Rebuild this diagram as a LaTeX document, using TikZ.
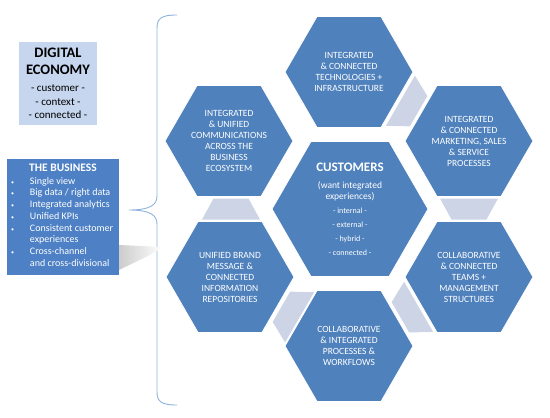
\documentclass[tikz,border=0pt]{standalone}
\usepackage{fontspec}
\setmainfont{Carlito}
\usepackage{tikz}
\usetikzlibrary{shapes.geometric}

\definecolor{hexblue}{RGB}{79,129,189}
\definecolor{bizblue}{RGB}{77,128,196}
\definecolor{econblue}{RGB}{198,214,238}
\definecolor{conngray}{RGB}{205,212,229}
\definecolor{braceblue}{RGB}{141,178,222}

\begin{document}
\begin{tikzpicture}[x=1pt, y=-1pt]
\tikzstyle{hex} = [regular polygon, regular polygon sides=6, minimum size=128pt, inner sep=0pt, fill=hexblue, draw=white, line width=0.8pt, text=white, align=center, font=\fontsize{9.5}{11}\selectfont]
\tikzstyle{box} = [rectangle, inner sep=0pt, align=center]
\useasboundingbox (0,0) rectangle (550,418);

% pieces between the outer hexagons
\foreach \a in {60,0,-60,-120,180}
  \fill[conngray, shift={(350,209)}, rotate=\a] (90,-10.5) -- (148,-10.5) -- (136.5,10.5) -- (101.5,10.5) -- cycle;

\node[hex, minimum size=156pt] (cust) at (350,209) {{\fontsize{13}{15}\selectfont\textbf{CUSTOMERS}}\\[6pt] (want integrated\\ experiences)\\[3pt] {\fontsize{8}{10}\selectfont - internal -}\\[3pt] {\fontsize{8}{10}\selectfont - external -}\\[3pt] {\fontsize{8}{10}\selectfont - hybrid -}\\[3pt] {\fontsize{8}{10}\selectfont - connected -}};
\node[hex] (tech) at (349,72) {INTEGRATED\\ \& CONNECTED\\ TECHNOLOGIES +\\ INFRASTRUCTURE};
\node[hex] (mkt) at (469,141) {INTEGRATED\\ \& CONNECTED\\ MARKETING, SALES\\ \& SERVICE\\ PROCESSES};
\node[hex] (teams) at (469,277) {COLLABORATIVE\\ \& CONNECTED\\ TEAMS +\\ MANAGEMENT\\ STRUCTURES};
\node[hex] (proc) at (349,346) {COLLABORATIVE\\ \& INTEGRATED\\ PROCESSES \&\\ WORKFLOWS};
\node[hex] (brand) at (230,277) {UNIFIED BRAND\\ MESSAGE \&\\ CONNECTED\\ INFORMATION\\ REPOSITORIES};
\node[hex] (comm) at (229,141) {INTEGRATED\\ \& UNIFIED\\ COMMUNICATIONS\\ ACROSS THE\\ BUSINESS\\ ECOSYSTEM};

% brace
\draw[braceblue, line width=0.9pt] (177,15) .. controls (162,15) and (157,18) .. (157,28) -- (157,196) .. controls (157,205) and (150,210) .. (129,210) .. controls (150,210) and (157,215) .. (157,224) -- (157,392) .. controls (157,402) and (162,405) .. (177,405);

% shadow of the business box
\shade[left color=gray!40, right color=white] (119,245) -- (163,247) -- (150,255) -- (119,270) -- cycle;

\node[box, fill=econblue, minimum width=78pt, minimum height=83pt, font=\fontsize{11}{13.5}\selectfont] (econ) at (58,83.5) {{\fontsize{14.5}{15}\selectfont\textbf{DIGITAL}}\\[3.5pt] {\fontsize{14.5}{15}\selectfont\textbf{ECONOMY}}\\[3.5pt] - customer -\\ - context -\\ - connected -};
\node[box, fill=bizblue, text=white, minimum width=112pt, minimum height=116pt, font=\fontsize{10}{11.7}\selectfont] (biz) at (63,217) {{\fontsize{11.5}{12}\selectfont\textbf{THE BUSINESS}}\\[3pt]
  \begin{tabular}{@{\hspace{4pt}}p{13pt}@{\hspace{6pt}}p{89pt}@{}}
  {\fontsize{6}{6}\selectfont\textbullet} & Single view\\
  {\fontsize{6}{6}\selectfont\textbullet} & Big data / right data\\
  {\fontsize{6}{6}\selectfont\textbullet} & Integrated analytics\\
  {\fontsize{6}{6}\selectfont\textbullet} & Unified KPIs\\
  {\fontsize{6}{6}\selectfont\textbullet} & Consistent customer\\
   & experiences\\
  {\fontsize{6}{6}\selectfont\textbullet} & Cross-channel\\
   & and cross-divisional
  \end{tabular}};
\end{tikzpicture}
\end{document}
